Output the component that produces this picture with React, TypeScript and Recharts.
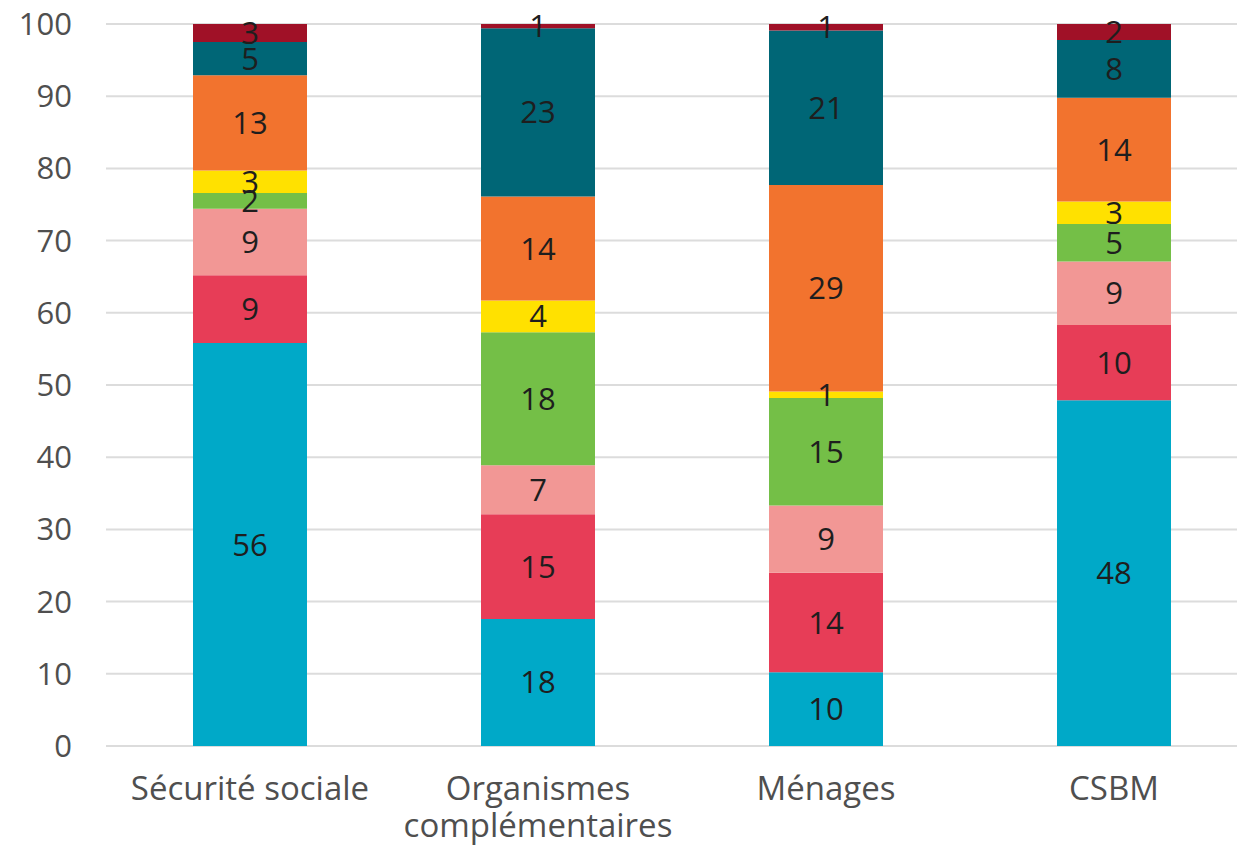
import { BarChart, Bar, XAxis, YAxis, CartesianGrid, LabelList } from 'recharts';

// Financeurs (abscisse) et parts en % par poste, empilées de bas en haut
const financeurs = ['Sécurité sociale', 'Organismes\ncomplémentaires', 'Ménages', 'CSBM'];

const bleu = [55.8, 17.6, 10.2, 47.9];
const rouge = [9.4, 14.5, 13.8, 10.4];
const rose = [9.2, 6.8, 9.3, 8.8];
const vert = [2.2, 18.4, 14.9, 5.2];
const jaune = [3.1, 4.4, 0.9, 3.1];
const orange = [13.2, 14.4, 28.6, 14.4];
const petrole = [4.6, 23.3, 21.4, 8.0];
const bordeaux = [2.5, 0.6, 0.9, 2.2];

const yTicks = [0, 10, 20, 30, 40, 50, 60, 70, 80, 90, 100];

const series = [
  { key: 'bleu', values: bleu, color: '#00A9C8' },
  { key: 'rouge', values: rouge, color: '#E73D57' },
  { key: 'rose', values: rose, color: '#F29795' },
  { key: 'vert', values: vert, color: '#74BF47' },
  { key: 'jaune', values: jaune, color: '#FFE100' },
  { key: 'orange', values: orange, color: '#F2732E' },
  { key: 'petrole', values: petrole, color: '#006676' },
  { key: 'bordeaux', values: bordeaux, color: '#A01127' },
];

const data = financeurs.map((name, i) => {
  const row: Record<string, string | number> = { name };
  series.forEach((s) => {
    row[s.key] = s.values[i];
  });
  return row;
});

const FONT = '"Open Sans", Lato, sans-serif';

// libellés d'abscisse sur une ou deux lignes
const CategoryTick = ({ x, y, payload }: any) => {
  const lines = String(payload.value).split('\n');
  return (
    <text x={x} y={y} textAnchor="middle" fill="#4F4F4F" fontSize={33} fontFamily={FONT}>
      {lines.map((line, i) => (
        <tspan key={i} x={x} dy={i === 0 ? 46 : 37}>
          {line}
        </tspan>
      ))}
    </text>
  );
};

export default function App() {
  return (
    <div style={{ position: 'absolute', left: 0, top: 0, width: 1237, height: 852, overflow: 'hidden', background: '#fff' }}>
      <BarChart
        width={1258}
        height={852}
        data={data}
        margin={{ top: 24, right: 0, bottom: 0, left: 0 }}
        barSize={114}
      >
        <CartesianGrid vertical={false} stroke="#DCDCDC" strokeWidth={2} />
        <XAxis
          dataKey="name"
          axisLine={false}
          tickLine={false}
          height={106}
          interval={0}
          tick={<CategoryTick />}
        />
        <YAxis
          domain={[0, 100]}
          ticks={yTicks}
          width={106}
          axisLine={false}
          tickLine={false}
          tickSize={0}
          tickMargin={34}
          tick={{ fill: '#4F4F4F', fontSize: 31, fontFamily: FONT }}
        />
        {series.map((s) => (
          <Bar key={s.key} dataKey={s.key} stackId="a" fill={s.color} isAnimationActive={false}>
            <LabelList
              dataKey={s.key}
              position="center"
              formatter={(v: any) => Math.round(Number(v))}
              fill="#1E1E1E"
              fontSize={31}
              fontFamily={FONT}
            />
          </Bar>
        ))}
      </BarChart>
    </div>
  );
}
